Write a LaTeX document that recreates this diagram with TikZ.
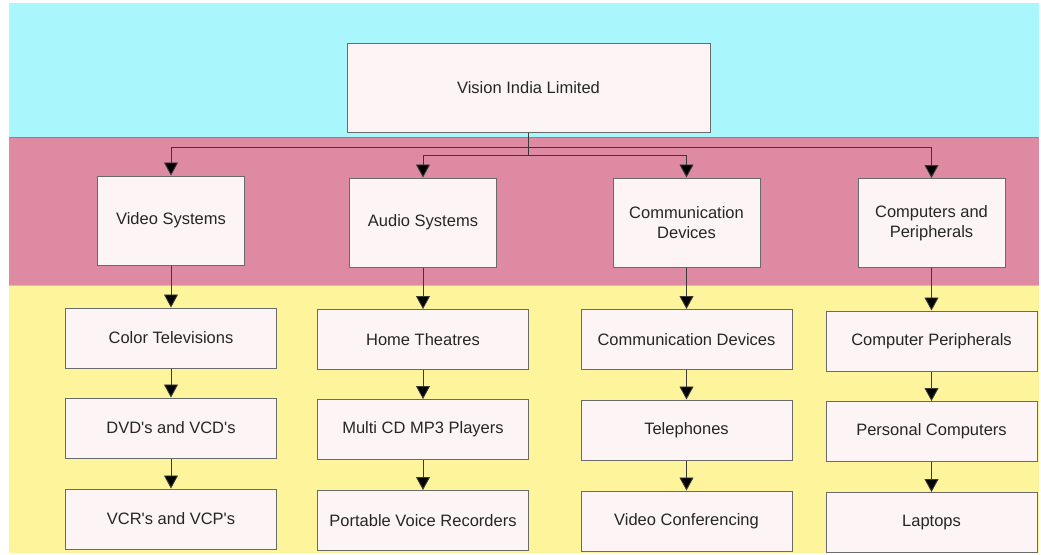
\documentclass[tikz,border=0pt]{standalone}
\usepackage{fontspec}
\setmainfont{Liberation Sans}
\usetikzlibrary{arrows.meta}
\definecolor{bandcyan}{HTML}{A9F7FD}
\definecolor{bandpink}{HTML}{DE8AA2}
\definecolor{bandyellow}{HTML}{FEF49C}
\definecolor{boxfill}{HTML}{FDF5F5}
\definecolor{boxline}{HTML}{6A6A6A}
\definecolor{txt}{HTML}{262626}
\definecolor{conn}{HTML}{3A3A3A}
\newcommand{\sq}{\textquotesingle}
\tikzset{
  orgbox/.style={draw=boxline, line width=1pt, fill=boxfill, text=txt,
    align=center, inner sep=2pt, font=\fontsize{16.5}{20}\selectfont},
  rootbox/.style={orgbox, minimum width=363pt, minimum height=89pt},
  midbox/.style={orgbox, minimum width=147pt, minimum height=89pt},
  leafbox/.style={orgbox, minimum width=211pt, minimum height=60pt},
  link/.style={draw=conn, line width=0.9pt},
  arrowlink/.style={link, -{Triangle[width=14pt,length=13pt,fill=black]}},
}
\begin{document}
\begin{tikzpicture}[x=1pt,y=-1pt]
\useasboundingbox (0,0) rectangle (1041,554);
% bands
\fill[white] (0,0) rectangle (1041,554);
\fill[bandcyan] (9,3) rectangle (1039,137);
\fill[bandpink] (9,137) rectangle (1039,285);
\fill[bandyellow] (9,285) rectangle (1039,553);
\draw[boxline!80, line width=0.8pt] (9,137) -- (1039,137);
\draw[boxline!40, line width=0.6pt] (9,285) -- (1039,285);

% root
\node[rootbox] (root) at (528.5,87.5) {Vision India Limited};
% level 2
\node[midbox] (vs) at (171,220.5) {Video Systems};
\node[midbox] (as) at (423,222.5) {Audio Systems};
\node[midbox] (cd) at (686.5,222.5) {Communication\\Devices};
\node[midbox] (cp) at (931.5,223) {Computers and\\Peripherals};
% level 3
\node[leafbox] (ct) at (171,338) {Color Televisions};
\node[leafbox] (dvd) at (171,428) {DVD\sq s and VCD\sq s};
\node[leafbox] (vcr) at (171,519) {VCR\sq s and VCP\sq s};
\node[leafbox] (ht) at (423,339.5) {Home Theatres};
\node[leafbox] (mcd) at (423,429.5) {Multi CD MP3 Players};
\node[leafbox] (pvr) at (423,520.5) {Portable Voice Recorders};
\node[leafbox] (cdv) at (686.5,339.5) {Communication Devices};
\node[leafbox] (tel) at (686.5,430) {Telephones};
\node[leafbox] (vc) at (686.5,521) {Video Conferencing};
\node[leafbox] (cpx) at (931.5,341) {Computer Peripherals};
\node[leafbox] (pc) at (931.5,431.5) {Personal Computers};
\node[leafbox] (lap) at (931.5,522.5) {Laptops};

% junctions
\coordinate (jo) at (528.5,147);
\coordinate (ji) at (528.5,155);
\draw[link] (root.south) -- (ji);
\draw[arrowlink] (jo) -| (vs.north);
\draw[arrowlink] (jo) -| (cp.north);
\draw[arrowlink] (ji) -| (as.north);
\draw[arrowlink] (ji) -| (cd.north);

% columns
\draw[arrowlink] (vs.south) -- (ct.north);
\draw[arrowlink] (ct.south) -- (dvd.north);
\draw[arrowlink] (dvd.south) -- (vcr.north);
\draw[arrowlink] (as.south) -- (ht.north);
\draw[arrowlink] (ht.south) -- (mcd.north);
\draw[arrowlink] (mcd.south) -- (pvr.north);
\draw[arrowlink] (cd.south) -- (cdv.north);
\draw[arrowlink] (cdv.south) -- (tel.north);
\draw[arrowlink] (tel.south) -- (vc.north);
\draw[arrowlink] (cp.south) -- (cpx.north);
\draw[arrowlink] (cpx.south) -- (pc.north);
\draw[arrowlink] (pc.south) -- (lap.north);
\end{tikzpicture}
\end{document}
